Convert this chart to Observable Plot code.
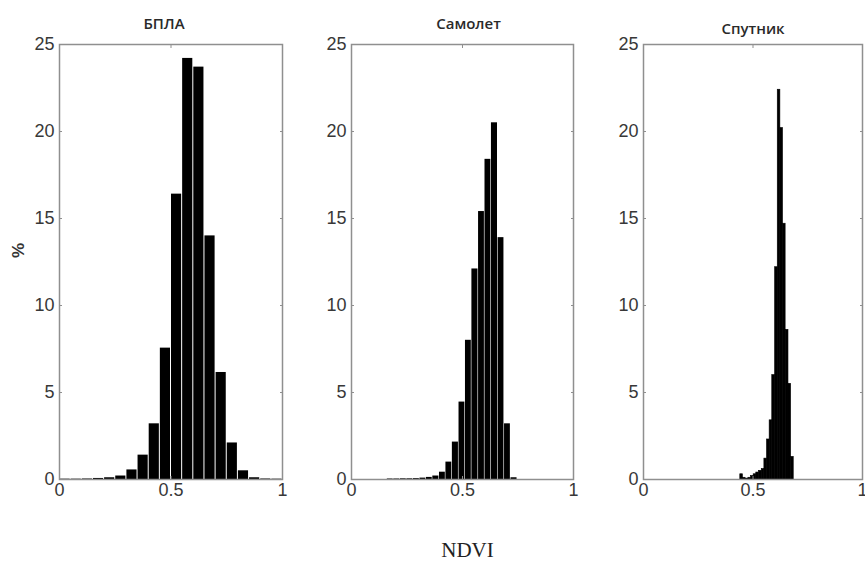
<!DOCTYPE html>
<html>
<head>
<meta charset="utf-8">
<script src="https://cdn.jsdelivr.net/npm/d3@7"></script>
<script src="https://cdn.jsdelivr.net/npm/@observablehq/plot@0.6"></script>
<style>
  body { margin: 0; background: #fff; }
  #chart { position: relative; width: 865px; height: 572px; overflow: hidden; background: #fff; }
  #chart svg { position: absolute; top: 0; overflow: visible; }
</style>
</head>
<body>
<div id="chart"></div>
<script>
// ---- data ----
const panelTitles = ["БПЛА", "Самолет", "Спутник"];
const xLabel = "NDVI";
const yLabel = "%";
const xTicks = [0, 0.5, 1];
const yTicks = [0, 5, 10, 15, 20, 25];

// БПЛА (UAV): bin edges and % per bin
const uavEdges = [0, 0.05, 0.10, 0.15, 0.20, 0.25, 0.30, 0.35, 0.40, 0.45, 0.50,
                  0.55, 0.60, 0.65, 0.70, 0.75, 0.80, 0.85, 0.90, 0.95, 1.00];
const uavValues = [0.02, 0.02, 0.03, 0.06, 0.10, 0.20, 0.55, 1.4, 3.2, 7.55,
                   16.4, 24.2, 23.7, 14.0, 6.15, 2.1, 0.5, 0.1, 0.03, 0.02];

// Самолет (aircraft)
const planeEdges = [0.160, 0.189, 0.219, 0.248, 0.277, 0.307, 0.336, 0.365, 0.395, 0.424,
                    0.453, 0.483, 0.512, 0.541, 0.571, 0.600, 0.629, 0.659, 0.688, 0.717, 0.747];
const planeValues = [0.03, 0.03, 0.04, 0.04, 0.05, 0.08, 0.12, 0.2, 0.42, 1.0,
                     2.15, 4.45, 8.0, 12.1, 15.4, 18.4, 20.5, 13.9, 3.2, 0.1];

// Спутник (satellite)
const satEdges = [0.442, 0.454, 0.466, 0.479, 0.491, 0.503, 0.515, 0.527, 0.540, 0.552,
                  0.564, 0.576, 0.588, 0.601, 0.613, 0.625, 0.637, 0.649, 0.662, 0.674, 0.686];
const satValues = [0.3, 0.1, 0.05, 0.1, 0.2, 0.3, 0.4, 0.5, 0.6, 1.2,
                   2.3, 3.4, 6.0, 12.2, 22.4, 20.2, 14.7, 8.6, 5.5, 1.3];

// ---- layout ----
const panels = [
  {title: panelTitles[0], edges: uavEdges, values: uavValues, left: 0, width: 290, marginLeft: 59, marginRight: 8, inset: 0.5, stroke: "none", titleDx: -7, titleDy: -20, yLabel: true},
  {title: panelTitles[1], edges: planeEdges, values: planeValues, left: 290, width: 290, marginLeft: 61, marginRight: 7, inset: 0.3, stroke: "none", titleDx: 6, titleDy: -20, xLabel: true},
  {title: panelTitles[2], edges: satEdges, values: satValues, left: 580, width: 285, marginLeft: 63, marginRight: 3, inset: 0, stroke: "black", titleDx: 0, titleDy: -15}
];

const chart = document.getElementById("chart");
const tickFont = 18;
const fontFamily = "'Liberation Sans', Arial, sans-serif";

for (const p of panels) {
  const bins = p.values.map((v, i) => ({x1: p.edges[i], x2: p.edges[i + 1], y: v}));
  const marks = [
    Plot.rectY(bins, {x1: "x1", x2: "x2", y: "y", fill: "black", stroke: p.stroke, strokeWidth: 0.6, insetLeft: p.inset, insetRight: p.inset}),
    Plot.frame({stroke: "#8f8f8f", strokeWidth: 1.5}),
    // tick labels
    Plot.axisX({ticks: xTicks, tickFormat: d => String(d), tickSize: 0, tickPadding: 4, fontSize: tickFont, fill: "#383838", label: null}),
    Plot.axisY({ticks: yTicks, tickFormat: d => String(d), tickSize: 0, tickPadding: 5, fontSize: tickFont, fill: "#383838", label: null}),
    // inward ticks on all sides
    Plot.axisX({anchor: "bottom", ticks: xTicks, tickFormat: () => "", tickSize: 3, dy: -3, stroke: "#8f8f8f", label: null}),
    Plot.axisX({anchor: "top", ticks: xTicks, tickFormat: () => "", tickSize: 3, dy: 3, stroke: "#8f8f8f", label: null}),
    Plot.axisY({anchor: "left", ticks: yTicks, tickFormat: () => "", tickSize: 3, dx: 3, stroke: "#8f8f8f", label: null}),
    Plot.axisY({anchor: "right", ticks: yTicks, tickFormat: () => "", tickSize: 3, dx: -3, stroke: "#8f8f8f", label: null}),
    // panel title
    Plot.text([p.title], {frameAnchor: "top", dy: p.titleDy, dx: p.titleDx, text: d => d, fontSize: 15, fontWeight: 600, fontFamily: "'Open Sans', sans-serif", fill: "#2a2a2a", lineAnchor: "middle"})
  ];
  if (p.yLabel) {
    marks.push(Plot.text([yLabel], {frameAnchor: "left", dx: -41, dy: -4, rotate: -90, text: d => d, fontSize: 17, fontWeight: "bold", fontFamily, fill: "#333"}));
  }
  if (p.xLabel) {
    marks.push(Plot.text([xLabel], {frameAnchor: "bottom", dy: 77, dx: 5, text: d => d, fontSize: 21, fontFamily: "'Liberation Serif', 'Times New Roman', serif", fill: "#222"}));
  }
  const svg = Plot.plot({
    width: p.width,
    height: 572,
    marginTop: 44,
    marginBottom: 93,
    marginLeft: p.marginLeft,
    marginRight: p.marginRight,
    x: {domain: [0, 1]},
    y: {domain: [0, 25]},
    style: {fontFamily, background: "transparent", color: "#333"},
    marks
  });
  svg.style.left = p.left + "px";
  chart.appendChild(svg);
}
</script>
</body>
</html>
